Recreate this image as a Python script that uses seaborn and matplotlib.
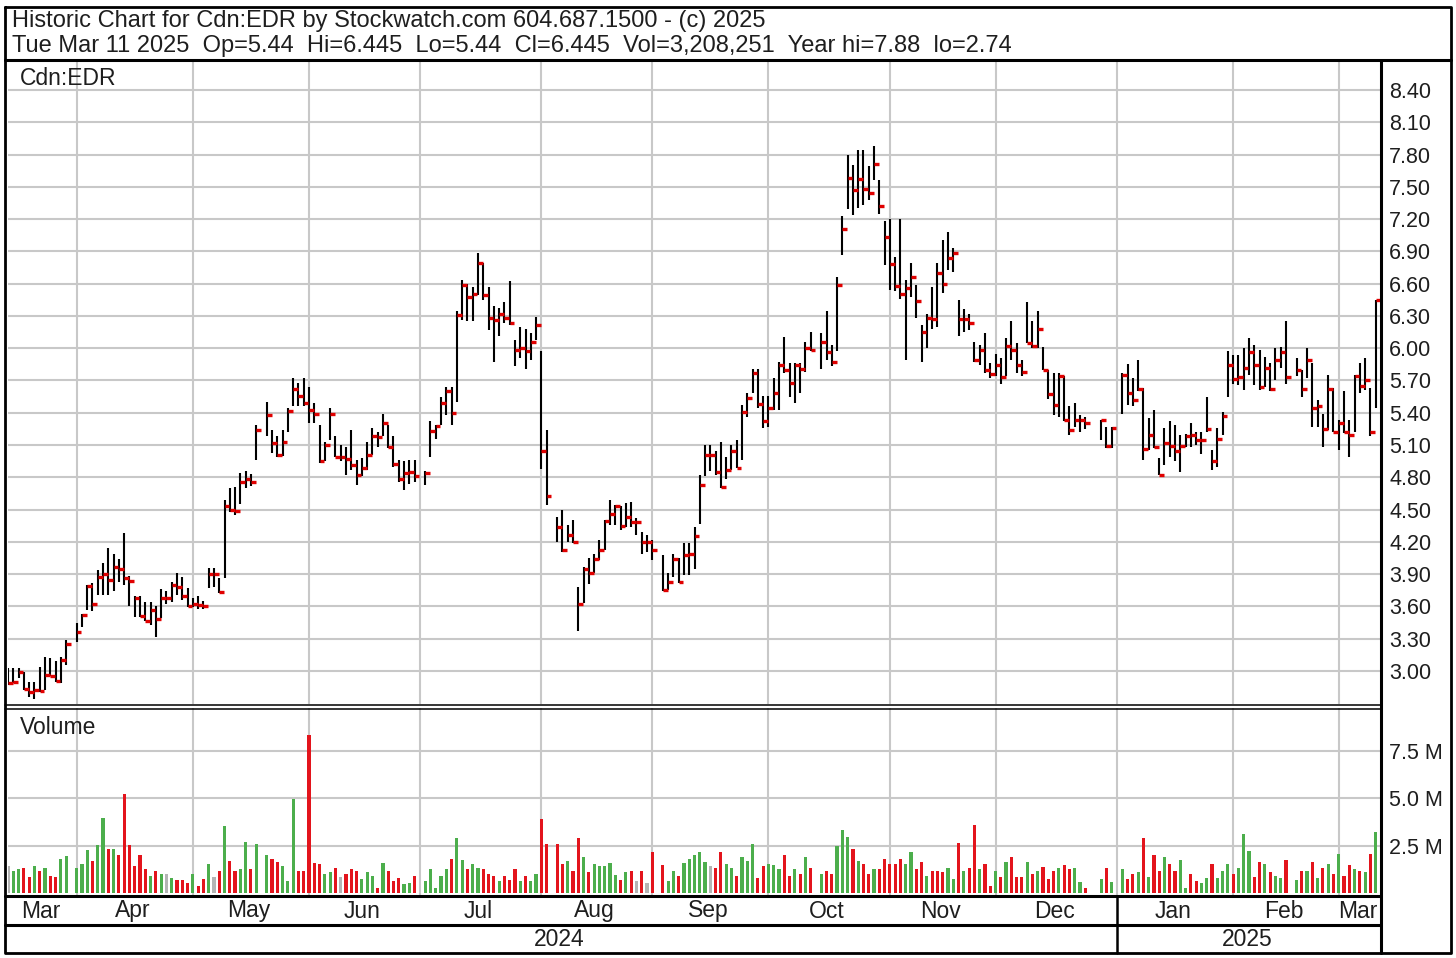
import numpy as np
import pandas as pd
import matplotlib
matplotlib.use('Agg')
import matplotlib.pyplot as plt
import seaborn as sns

# -------------------------------------------------------
# DATA  (one entry per trading day, Mar 13 2024 -> Mar 11 2025)
# -------------------------------------------------------
holidays = ['2024-03-29', '2024-05-20', '2024-07-01', '2024-08-05', '2024-09-02',
            '2024-10-14', '2024-12-25', '2024-12-26', '2025-01-01', '2025-02-17']

high = [
    3.03, 3.03, 3.03, 2.99, 2.90, 2.90, 3.04, 3.13, 3.12, 3.09, 3.13, 3.29,  # Mar
    3.45, 3.53, 3.80, 3.82, 3.94, 4.00, 4.14, 4.09, 4.04, 4.28, 3.88, 3.70, 3.70, 3.64, 3.64, 3.60,
    3.76, 3.74, 3.83, 3.91, 3.87, 3.77,  # Apr
    3.68, 3.70, 3.65, 3.96, 3.96, 3.86, 4.59, 4.70, 4.71, 4.84, 4.86, 4.83, 5.29,
    5.50, 5.24, 5.18, 5.24, 5.44, 5.72, 5.68, 5.72, 5.64,  # May
    5.49, 5.29, 5.13, 5.44, 5.18, 5.10, 5.08, 5.24, 4.96, 4.98, 5.13, 5.26, 5.22, 5.39, 5.29, 5.18,
    4.96, 4.95, 4.96, 4.96,  # Jun
    4.86, 5.32, 5.29, 5.55, 5.64, 5.64, 6.35, 6.63, 6.60, 6.57, 6.88, 6.79, 6.57, 6.39, 6.37, 6.43,
    6.62, 6.08, 6.20, 6.18, 6.14, 6.29,  # Jul
    5.97, 5.24, 4.43, 4.50, 4.36, 4.40, 3.78, 3.97, 4.05, 4.09, 4.22, 4.40, 4.59, 4.54, 4.53, 4.56,
    4.57, 4.42, 4.29, 4.26, 4.22,  # Aug
    4.08, 3.91, 4.09, 4.05, 4.19, 4.19, 4.34, 4.82, 5.10, 5.10, 5.04, 5.13, 4.99, 5.10, 5.15, 5.47,
    5.58, 5.81, 5.81, 5.56,  # Sep
    5.56, 5.72, 5.87, 6.10, 5.86, 5.86, 5.86, 6.06, 6.15,
    6.14, 6.35, 6.03, 6.66, 7.23, 7.80, 7.70, 7.84, 7.84, 7.69, 7.88, 7.56, 7.18,  # Oct
    7.20, 6.85, 7.20, 6.63, 6.79, 6.59, 6.22, 6.32, 6.57, 6.79, 7.01, 7.08, 6.93, 6.45, 6.36, 6.32,
    6.06, 6.03, 6.14, 5.86, 5.95,  # Nov
    5.91, 6.09, 6.25, 6.05, 5.89, 6.43, 6.25, 6.35, 6.01, 5.80, 5.77, 5.77, 5.74, 5.46, 5.49, 5.38,
    5.36, 5.33, 5.27, 5.27,  # Dec
    5.77, 5.85, 5.72, 5.89, 5.63, 5.35, 5.43, 4.98, 5.26, 5.32, 5.29, 5.19, 5.20, 5.30, 5.22, 5.22,
    5.55, 5.05, 5.26, 5.41, 5.97, 5.94,  # Jan
    5.94, 6.00, 6.09, 6.03, 5.98, 5.92, 5.86, 6.00, 6.01, 6.25,
    5.91, 5.80, 6.00, 5.86, 5.52, 5.39, 5.75, 5.63, 5.33,  # Feb
    5.60, 5.33, 5.75, 5.86, 5.91, 5.63, 6.445,  # Mar
]

low = [
    2.87, 2.89, 2.93, 2.82, 2.76, 2.74, 2.80, 2.82, 2.95, 2.90, 2.89, 3.06,
    3.27, 3.41, 3.57, 3.56, 3.71, 3.71, 3.71, 3.74, 3.83, 3.80, 3.60, 3.50, 3.50, 3.46, 3.43, 3.32,
    3.49, 3.62, 3.64, 3.71, 3.66, 3.59,
    3.59, 3.58, 3.58, 3.77, 3.78, 3.72, 3.86, 4.48, 4.45, 4.55, 4.70, 4.72, 4.96,
    5.18, 5.03, 4.99, 5.00, 5.22, 5.46, 5.46, 5.46, 5.30,
    5.30, 4.93, 4.95, 5.15, 4.99, 4.95, 4.82, 4.87, 4.73, 4.81, 4.87, 5.01, 5.08, 5.18, 5.07, 4.90,
    4.76, 4.68, 4.74, 4.76,
    4.73, 4.99, 5.16, 5.29, 5.38, 5.29, 5.50, 6.26, 6.25, 6.25, 6.49, 6.45, 6.17, 5.87, 6.11, 6.23,
    6.22, 5.83, 5.91, 5.81, 5.89, 6.08,
    4.88, 4.54, 4.20, 4.11, 4.20, 4.19, 3.37, 3.63, 3.81, 3.91, 4.03, 4.12, 4.36, 4.36, 4.31, 4.34,
    4.34, 4.26, 4.09, 4.11, 4.03,
    3.74, 3.75, 3.87, 3.82, 3.89, 3.89, 3.95, 4.37, 4.81, 4.86, 4.82, 4.70, 4.78, 4.87, 4.89, 4.96,
    5.36, 5.58, 5.44, 5.26,
    5.27, 5.43, 5.43, 5.77, 5.55, 5.49, 5.58, 5.78, 5.97,
    5.81, 5.89, 5.83, 5.97, 6.87, 7.29, 7.24, 7.30, 7.33, 7.38, 7.56, 7.25, 6.77,
    6.54, 6.53, 6.46, 5.89, 6.48, 6.28, 5.87, 6.00, 6.18, 6.20, 6.51, 6.73, 6.71, 6.11, 6.15, 6.17,
    5.87, 5.84, 5.77, 5.72, 5.74,
    5.67, 5.74, 5.89, 5.77, 5.74, 6.05, 6.00, 6.00, 5.80, 5.53, 5.38, 5.36, 5.32, 5.19, 5.27, 5.22,
    5.25, 5.15, 5.07, 5.07,
    5.39, 5.47, 5.46, 5.60, 4.96, 5.05, 5.07, 4.82, 4.91, 4.99, 4.95, 4.85, 5.08, 5.08, 5.10, 5.02,
    5.22, 4.87, 4.90, 5.19, 5.55, 5.67,
    5.66, 5.61, 5.75, 5.66, 5.61, 5.64, 5.60, 5.70, 5.82, 5.67,
    5.74, 5.55, 5.72, 5.27, 5.27, 5.08, 5.24, 5.22, 5.05,
    5.21, 4.99, 5.22, 5.58, 5.61, 5.18, 5.44,
]

close = [
    2.89, 2.90, 2.99, 2.83, 2.80, 2.82, 2.81, 2.96, 2.95, 2.91, 3.10, 3.25,
    3.36, 3.52, 3.79, 3.62, 3.87, 3.90, 3.85, 3.97, 3.95, 3.86, 3.84, 3.68, 3.51, 3.46, 3.57, 3.48,
    3.68, 3.68, 3.80, 3.78, 3.70, 3.60,
    3.62, 3.61, 3.60, 3.90, 3.90, 3.73, 4.53, 4.50, 4.49, 4.76, 4.78, 4.76, 5.24,
    5.38, 5.12, 5.01, 5.13, 5.42, 5.62, 5.56, 5.49, 5.43,
    5.39, 4.95, 5.10, 5.39, 4.99, 4.99, 4.97, 4.91, 4.82, 4.89, 5.01, 5.18, 5.17, 5.30, 5.08, 4.92,
    4.78, 4.84, 4.85, 4.81,
    4.84, 5.23, 5.28, 5.49, 5.60, 5.40, 6.31, 6.59, 6.48, 6.50, 6.79, 6.49, 6.28, 6.26, 6.32, 6.28,
    6.23, 5.98, 6.00, 5.97, 6.06, 6.22,
    5.04, 4.63, 4.34, 4.12, 4.26, 4.20, 3.62, 3.95, 3.91, 4.04, 4.12, 4.39, 4.46, 4.53, 4.35, 4.43,
    4.38, 4.38, 4.20, 4.20, 4.12,
    3.75, 3.83, 4.04, 3.83, 4.08, 4.09, 4.25, 4.73, 5.01, 5.01, 4.85, 4.71, 4.87, 5.04, 4.89, 5.41,
    5.54, 5.77, 5.48, 5.32,
    5.44, 5.58, 5.84, 5.80, 5.68, 5.84, 5.81, 6.00, 5.98,
    6.06, 5.96, 5.87, 6.59, 7.11, 7.58, 7.47, 7.57, 7.48, 7.44, 7.71, 7.32, 7.03,
    6.78, 6.58, 6.50, 6.56, 6.66, 6.44, 6.15, 6.28, 6.27, 6.70, 6.60, 6.84, 6.88, 6.27, 6.27, 6.23,
    5.89, 5.98, 5.80, 5.76, 5.84,
    5.73, 6.02, 5.98, 5.84, 5.78, 6.05, 6.02, 6.18, 5.80, 5.57, 5.47, 5.74, 5.33, 5.24, 5.33, 5.33,
    5.30, 5.33, 5.09, 5.26,
    5.75, 5.58, 5.52, 5.62, 5.06, 5.19, 5.08, 4.82, 5.12, 5.09, 5.04, 5.09, 5.18, 5.19, 5.15, 5.15,
    5.25, 4.95, 5.16, 5.37, 5.84, 5.71,
    5.73, 5.82, 5.96, 5.84, 5.64, 5.82, 5.62, 5.89, 5.96, 5.73,
    5.80, 5.62, 5.89, 5.44, 5.46, 5.25, 5.62, 5.22, 5.30,
    5.22, 5.19, 5.74, 5.65, 5.70, 5.22, 6.445,
]

# volume in millions of shares
volume = [
    1.43, 1.17, 1.26, 1.34, 0.83, 1.43, 1.17, 1.34, 0.91, 0.83, 1.78, 1.95,
    1.34, 1.52, 2.24, 1.69, 2.52, 3.97, 2.34, 2.34, 2.00, 5.22, 2.52, 1.43, 2.00, 1.26, 0.91, 1.17,
    1.00, 1.00, 0.79, 0.71, 0.66, 0.53,
    1.00, 0.36, 0.74, 1.52, 0.83, 1.17, 3.53, 1.69, 1.17, 1.26, 2.69, 1.26, 2.60,
    2.00, 1.81, 1.64, 1.43, 0.62, 4.97, 1.17, 1.17, 8.30,
    1.60, 1.52, 1.00, 1.09, 1.34, 0.83, 1.00, 1.26, 1.17, 0.74, 1.09, 0.91, 0.28, 1.60, 1.17, 0.62,
    0.79, 0.48, 0.53, 0.91,
    0.62, 1.26, 0.26, 0.91, 1.26, 1.81, 2.88, 1.72, 1.26, 1.52, 1.34, 1.26, 1.00, 0.91, 0.62, 0.91,
    0.71, 1.26, 0.62, 0.91, 0.62, 1.00,
    3.88, 2.60, 2.60, 1.52, 1.69, 1.17, 2.90, 1.90, 1.09, 1.52, 1.43, 1.43, 1.60, 0.97, 0.71, 1.09,
    1.17, 0.62, 1.17, 0.53, 2.17,
    1.47, 0.62, 1.17, 0.91, 1.60, 1.81, 1.98, 2.16, 1.64, 1.43, 1.34, 2.16, 1.52, 1.34, 0.91, 1.90,
    1.69, 2.60, 0.79, 1.43,
    1.52, 1.47, 1.26, 1.98, 0.91, 1.26, 1.00, 1.90, 1.34,
    1.00, 1.17, 1.00, 2.47, 3.33, 2.95, 2.34, 1.69, 1.55, 1.00, 1.26, 1.26, 1.81,
    1.55, 1.55, 1.80, 1.55, 2.16, 1.26, 1.63, 0.92, 1.17, 1.17, 1.09, 1.34, 0.75, 2.62, 1.17, 1.34,
    3.59, 1.26, 1.55, 0.39, 1.17,
    0.83, 1.63, 1.90, 0.83, 0.83, 1.63, 1.00, 1.17, 1.38, 0.75, 1.17, 1.34, 1.46, 1.29, 1.34, 0.58,
    0.27, 0.75, 1.34, 0.58,
    1.26, 0.75, 1.00, 1.09, 2.87, 0.83, 1.99, 1.17, 1.89, 1.55, 1.17, 1.72, 0.27, 1.00, 0.63, 0.54,
    0.80, 1.55, 0.80, 1.17, 1.55, 1.00,
    1.34, 3.13, 2.23, 0.83, 1.63, 1.55, 1.09, 0.92, 0.80, 1.72,
    0.71, 1.17, 1.17, 1.63, 0.80, 1.34, 1.55, 1.00, 2.06,
    0.92, 1.46, 1.26, 1.17, 1.09, 2.06, 3.21,
]

# u = up day (green volume), d = down day (red), n = unchanged (grey)
moves = (
    "nuuddududduu"
    "uuuduududdddddudunuddd"
    "uddundudduudu" "udduuuddd"
    "dduudndddu" "uududdduud"
    "uuuuuduudu" "udddudddud" "uu"
    "dd" "dduddu" "duuuuu" "dudndnd"
    "duuduuuuun" "dduuduuudd"
    "uuuddudud" "udduuududdudd"
    "ddduuddudd" "duududdudd" "u"
    "dudddududd" "dudduud" "udu"
    "uddududdud" "duudduuduu" "ud"
    "uuudduduud" "ududududu"
    "ddududu"
)

price_ticks = [3.00, 3.30, 3.60, 3.90, 4.20, 4.50, 4.80, 5.10, 5.40, 5.70,
               6.00, 6.30, 6.60, 6.90, 7.20, 7.50, 7.80, 8.10, 8.40]
volume_ticks = [2.5, 5.0, 7.5]
month_labels = ['Mar', 'Apr', 'May', 'Jun', 'Jul', 'Aug', 'Sep', 'Oct', 'Nov', 'Dec',
                'Jan', 'Feb', 'Mar']
month_starts = ['2024-04-01', '2024-05-01', '2024-06-01', '2024-07-01', '2024-08-01',
                '2024-09-01', '2024-10-01', '2024-11-01', '2024-12-01', '2025-01-01',
                '2025-02-01', '2025-03-01']
header_1 = 'Historic Chart for Cdn:EDR by Stockwatch.com 604.687.1500 - (c) 2025'
header_2 = ('Tue Mar 11 2025  Op=5.44  Hi=6.445  Lo=5.44  Cl=6.445  '
            'Vol=3,208,251  Year hi=7.88  lo=2.74')

# -------------------------------------------------------
# POSITIONS (weekday axis, holidays left blank)
# -------------------------------------------------------
weekdays = pd.bdate_range('2024-03-13', '2025-03-11')
days = weekdays[~weekdays.isin(pd.to_datetime(holidays))]
pos = weekdays.get_indexer(days)

grid_x = [weekdays.searchsorted(pd.Timestamp(m), side='right') - 1 for m in month_starts]
XMIN, XMAX = 0.0, 260.0

df = pd.DataFrame({'pos': pos, 'high': high, 'low': low, 'close': close,
                   'volume': volume, 'move': list(moves)})

# -------------------------------------------------------
# FIGURE
# -------------------------------------------------------
sns.set_theme(style='white')
plt.rcParams['font.family'] = ['Liberation Sans', 'DejaVu Sans']

W, H = 1456, 958
fig = plt.figure(figsize=(W / 100, H / 100), dpi=100)
fig.patch.set_facecolor('white')

TXT = '#1e1e1e'
FS = 16.5


def add_ax(x0, y0, x1, y1):
    return fig.add_axes([x0 / W, 1 - y1 / H, (x1 - x0) / W, (y1 - y0) / H])


def data_to_px(x):
    return 8 + (x - XMIN) / (XMAX - XMIN) * (1381 - 8)


ax_p = add_ax(8, 61, 1381, 704)
ax_v = add_ax(8, 708, 1381, 895)

GRID = '#c8c8c8'
for ax in (ax_p, ax_v):
    ax.set_facecolor('white')
    for s in ax.spines.values():
        s.set_visible(False)
    ax.set_xticks(grid_x)
    ax.grid(True, color=GRID, lw=1.5)
    ax.set_axisbelow(True)
    ax.tick_params(axis='x', length=0, labelbottom=False)
    ax.yaxis.tick_right()
    ax.tick_params(axis='y', length=0, pad=6, labelsize=15.5, colors=TXT)

# price bars
ax_p.vlines(df['pos'], df['low'], df['high'], color='black', lw=1.5, zorder=3)
ax_p.hlines(df['close'], df['pos'], df['pos'] + 0.9, color='#e00000', lw=2.4, zorder=4)
ax_p.set_xlim(XMIN, XMAX)
ax_p.set_ylim(2.693, 8.669)
ax_p.set_yticks(price_ticks)
ax_p.set_yticklabels([f'{t:.2f}' for t in price_ticks])
ax_p.text(12 / 1373, 0.973, 'Cdn:EDR', transform=ax_p.transAxes, fontsize=FS,
          va='center', ha='left', color=TXT)

# volume bars
sns.barplot(data=df, x='pos', y='volume', hue='move', native_scale=True,
            palette={'u': '#4cae4c', 'd': '#e3141c', 'n': '#b4b4b4'},
            width=0.6, dodge=False, saturation=1, errorbar=None, legend=False,
            linewidth=0, edgecolor='none', ax=ax_v, zorder=3)
ax_v.set_xlim(XMIN, XMAX)
ax_v.set_ylim(-0.105, 9.74)
ax_v.set_yticks(volume_ticks)
ax_v.set_yticklabels([f'{t:.1f} M' for t in volume_ticks])
ax_v.set_xlabel('')
ax_v.set_ylabel('')
ax_v.set_xticks(grid_x)
ax_v.tick_params(axis='x', length=0, labelbottom=False)
ax_v.text(12 / 1373, 0.895, 'Volume', transform=ax_v.transAxes, fontsize=FS,
          va='center', ha='left', color=TXT)

# -------------------------------------------------------
# FRAME, HEADER AND DATE ROWS (pixel overlay)
# -------------------------------------------------------
ov = fig.add_axes([0, 0, 1, 1], zorder=10)
ov.set_xlim(0, W)
ov.set_ylim(H, 0)
ov.axis('off')

K = 'black'
ov.plot([5, 1451, 1451, 5, 5], [7, 7, 953, 953, 7], color=K, lw=2.0)
ov.plot([5, 1451], [60, 60], color=K, lw=2.2)
ov.plot([1381, 1381], [60, 953], color=K, lw=2.2)
ov.plot([5, 1381], [705, 705], color=K, lw=1.1)
ov.plot([5, 1381], [708.5, 708.5], color=K, lw=1.1)
ov.plot([5, 1381], [896, 896], color=K, lw=2.2)
ov.plot([5, 1381], [925, 925], color=K, lw=2.2)
year_split = data_to_px(grid_x[9])
ov.plot([year_split, year_split], [896, 953], color=K, lw=1.8)

ov.text(12, 21, header_1, fontsize=17, va='center', ha='left', color=TXT)
ov.text(12, 46, header_2, fontsize=17, va='center', ha='left', color=TXT)

edges = [XMIN] + grid_x + [XMAX]
for k, lab in enumerate(month_labels):
    xc = data_to_px((edges[k] + edges[k + 1]) / 2)
    ov.text(xc - 2, 911, lab, fontsize=FS, ha='center', va='center', color=TXT)
ov.text(data_to_px((XMIN + grid_x[9]) / 2) - 3, 940, '2024', fontsize=FS,
        ha='center', va='center', color=TXT)
ov.text(data_to_px((grid_x[9] + XMAX) / 2) - 2, 940, '2025', fontsize=FS,
        ha='center', va='center', color=TXT)

fig.savefig('out.png', dpi=100, facecolor='white')
